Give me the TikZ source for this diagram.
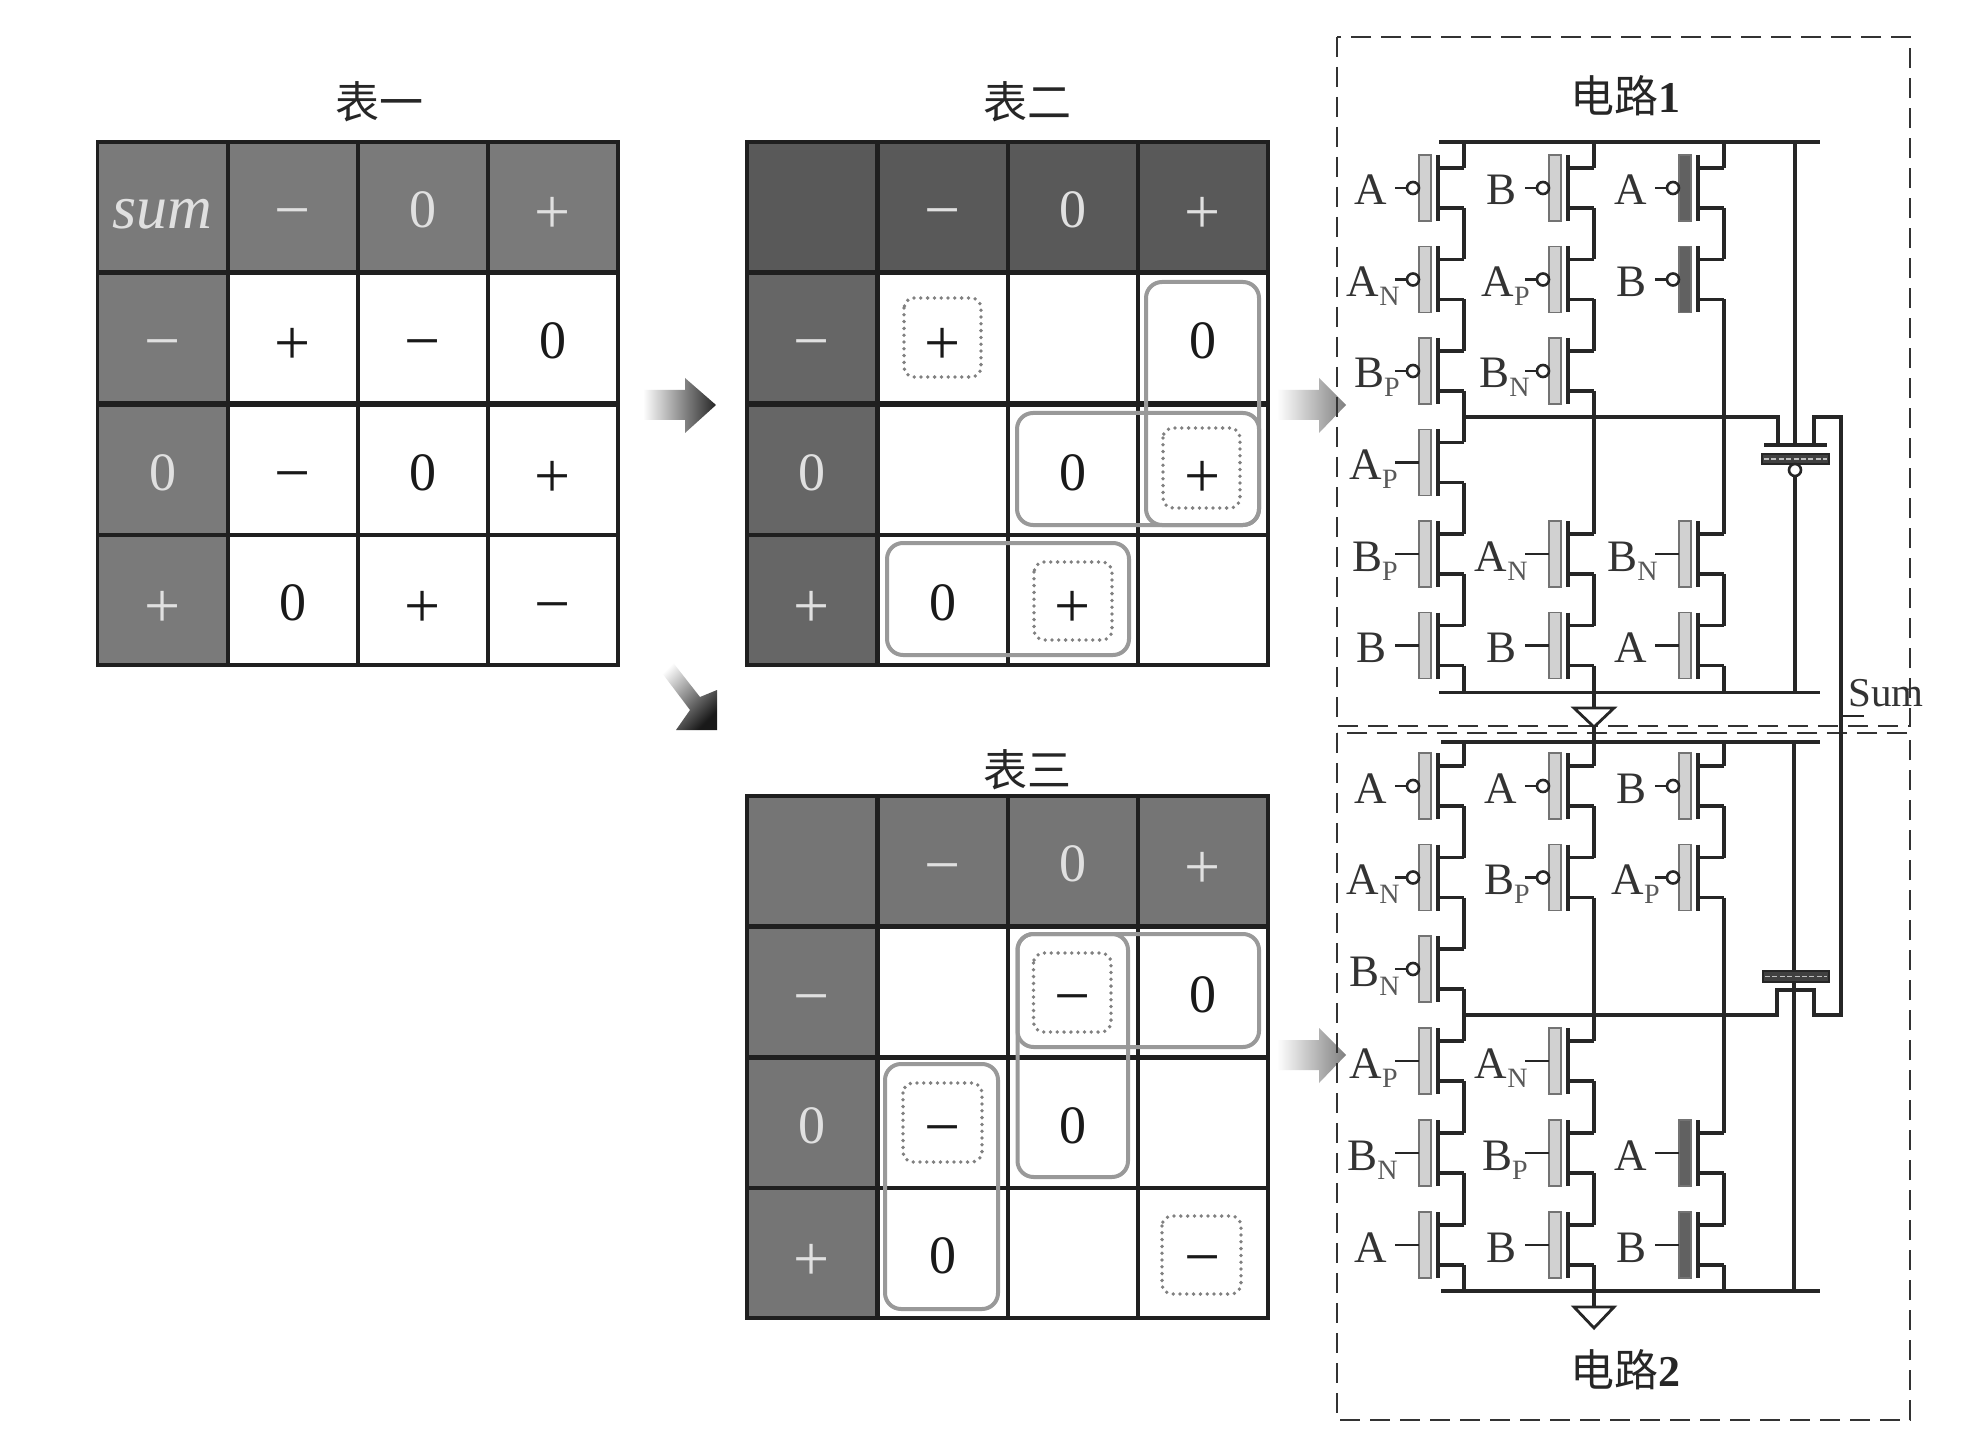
\documentclass[tikz,border=0pt]{standalone}
\usepackage{fontspec}
\setmainfont{Liberation Serif}
\newfontfamily\cjkf{Noto Sans CJK SC}
\usetikzlibrary{shadings}
\definecolor{hA}{gray}{0.48}
\definecolor{hB}{gray}{0.35}
\definecolor{hC}{gray}{0.40}
\definecolor{hD}{gray}{0.46}
\definecolor{hlt}{gray}{0.88}
\definecolor{rnd}{gray}{0.60}
\definecolor{dotc}{gray}{0.50}
\definecolor{gatel}{gray}{0.82}
\definecolor{gated}{gray}{0.38}
\tikzset{
  x=0.5pt,y=-0.5pt,
  cellbase/.style={draw=black!88,line width=1.7pt,minimum width=65pt,minimum height=65pt,inner sep=0pt,outer sep=0pt,font=\fontsize{27}{27}\selectfont},
  wcell/.style={cellbase,fill=white,text=black!90},
  hcellA/.style={cellbase,fill=hA,text=hlt},
  hcellB/.style={cellbase,fill=hB,text=hlt},
  hcellC/.style={cellbase,fill=hC,text=hlt},
  hcellD/.style={cellbase,fill=hD,text=hlt},
  title/.style={font=\cjkf\fontsize{22}{22}\selectfont,text=black!85,inner sep=0pt},
  ctitle/.style={font=\fontsize{22}{22}\selectfont,text=black!85,inner sep=0pt},
  rbox/.style={draw=rnd,line width=2pt,rounded corners=8pt},
  dbox/.style={draw=dotc,line width=1.9pt,dash pattern=on 0pt off 3.4pt,line cap=round,rounded corners=5pt},
  wire/.style={draw=black!85,line width=1.6pt},
  gatebox/.style={draw=black!55,line width=0.8pt},
  dashbox/.style={draw=black!80,line width=1.1pt,dash pattern=on 10pt off 5pt},
  tlabel/.style={font=\fontsize{22.5}{22.5}\selectfont,text=black!80,inner sep=0pt},
}
\newcommand{\pl}{\raisebox{-13.5pt}[0pt][0pt]{\fontsize{32}{32}\selectfont +}}
\newcommand{\mn}{\raisebox{-12.5pt}[0pt][0pt]{\fontsize{32}{32}\selectfont −}}
\newcommand{\zr}{\raisebox{-10.4pt}[0pt][0pt]{0}}
\newcommand{\sbs}[1]{\raisebox{-4.5pt}{\fontsize{14}{14}\selectfont\color{black!65}#1}}
% \trans{rail x}{row y}{label}{right-shift}{gate fill}{bubble 0/1}
\newcommand{\trans}[6]{%
  \begin{scope}[shift={(#1,#2)}]
    \draw[wire] (0,-20) -- (-26,-20) (-26,-33) -- (-26,33) (-26,20) -- (0,20);
    \draw[gatebox,fill=#5] (-45,-33) rectangle (-33,33);
    \ifnum#6=1
      \draw[wire,line width=1.3pt,fill=white] (-51,0) circle (6);
      \draw[wire,line width=1.3pt] (-69,0) -- (-57,0);
    \else
      \draw[wire,line width=1.3pt] (-69,0) -- (-45,0);
    \fi
    \node[tlabel,anchor=base east] at (#4,17) {#3};
  \end{scope}}
\newcommand{\railseg}[3]{\draw[wire] (#1,#2) -- (#1,#3);}
\begin{document}
\begin{tikzpicture}
\useasboundingbox[fill=white] (0,0) rectangle (1986,1444);
% ---------- titles
\node[title] (ttA) at (379,102) {表一};
\node[title] (ttB) at (1027,102) {表二};
\node[title] (ttC) at (1027,770) {表三};
% ---------- table 1
\foreach \n/\x/\y/\s/\t in {a/162.5/207/hcellA/{\raisebox{-10.8pt}[0pt][0pt]{\fontsize{31}{31}\selectfont\itshape sum}},
  b/293/207/hcellA/{\mn},c/423/207/hcellA/{\zr},d/553/207/hcellA/{\pl},
  e/162.5/338/hcellA/{\mn},f/293/338/wcell/{\pl},g/423/338/wcell/{\mn},h/553/338/wcell/{\zr},
  i/162.5/470/hcellA/{\zr},j/293/470/wcell/{\mn},k/423/470/wcell/{\zr},l/553/470/wcell/{\pl},
  m/162.5/600/hcellA/{\pl},n/293/600/wcell/{\zr},o/423/600/wcell/{\pl},p/553/600/wcell/{\mn}}
  {\node[\s] (one\n) at (\x,\y) {\t};}
% ---------- table 2
\foreach \n/\x/\y/\s/\t in {a/812/207/hcellB/{},
  b/943/207/hcellB/{\mn},c/1073/207/hcellB/{\zr},d/1203/207/hcellB/{\pl},
  e/812/338/hcellC/{\mn},f/943/338/wcell/{\pl},g/1073/338/wcell/{},h/1203/338/wcell/{\zr},
  i/812/470/hcellC/{\zr},j/943/470/wcell/{},k/1073/470/wcell/{\zr},l/1203/470/wcell/{\pl},
  m/812/600/hcellC/{\pl},n/943/600/wcell/{\zr},o/1073/600/wcell/{\pl},p/1203/600/wcell/{}}
  {\node[\s] (two\n) at (\x,\y) {\t};}
\draw[rbox] (1146,282) rectangle (1259,525);
\draw[rbox] (1017,413) rectangle (1259,525);
\draw[rbox] (887,543) rectangle (1129,655);
\draw[dbox] (904,298) rectangle (981,377);
\draw[dbox] (1163,428) rectangle (1240,508);
\draw[dbox] (1034,562) rectangle (1112,640);
% ---------- table 3
\foreach \n/\x/\y/\s/\t in {a/812/861/hcellD/{},
  b/943/861/hcellD/{\mn},c/1073/861/hcellD/{\zr},d/1203/861/hcellD/{\pl},
  e/812/992/hcellD/{\mn},f/943/992/wcell/{},g/1073/992/wcell/{\mn},h/1203/992/wcell/{\zr},
  i/812/1123/hcellD/{\zr},j/943/1123/wcell/{\mn},k/1073/1123/wcell/{\zr},l/1203/1123/wcell/{},
  m/812/1253/hcellD/{\pl},n/943/1253/wcell/{\zr},o/1073/1253/wcell/{},p/1203/1253/wcell/{\mn}}
  {\node[\s] (thr\n) at (\x,\y) {\t};}
\draw[rbox] (1017.5,934) rectangle (1128,1177);
\draw[rbox] (1017.5,934) rectangle (1259,1047);
\draw[rbox] (885,1064) rectangle (998,1309);
\draw[dbox] (1033.5,953) rectangle (1111,1032);
\draw[dbox] (903,1083) rectangle (982,1162);
\draw[dbox] (1162,1216) rectangle (1241,1294);
% ---------- block arrows
\path[left color=white,right color=black!85] (643,390) -- (685,390) -- (685,378) -- (716,405) -- (685,433) -- (685,420) -- (643,420) -- cycle;
\path[left color=white,right color=black!50] (1277,390) -- (1319,390) -- (1319,378) -- (1346,405) -- (1319,433) -- (1319,420) -- (1277,420) -- cycle;
\path[left color=white,right color=black!50] (1277,1040) -- (1319,1040) -- (1319,1028) -- (1346,1055) -- (1319,1083) -- (1319,1070) -- (1277,1070) -- cycle;
\path[top color=white,bottom color=black!90,shading angle=45] (671,660) -- (700,697) -- (717,690) -- (717,730) -- (676,730) -- (690,710) -- (656,665) -- cycle;
% ---------- dashed frames
\draw[dashbox] (1337,37) rectangle (1910,726);
\draw[dashbox] (1337,733) rectangle (1910,1420);
\node[ctitle] (ctA) at (1625,96) {{\cjkf 电路}\textbf{1}};
\node[ctitle] (ctB) at (1625,1370) {{\cjkf 电路}\textbf{2}};
% ---------- circuit 1
\draw[wire] (1439,142) -- (1820,142);
\draw[wire] (1439,692.5) -- (1820,692.5);
\foreach \cx/\ya/\yb in {1464/142/168,1464/208/259.5,1464/299.5/351,1464/391/442.5,1464/482.5/534,1464/574/625.5,1464/665.5/692.5,
  1594/142/168,1594/208/259.5,1594/299.5/351,1594/391/534,1594/574/625.5,1594/665.5/692.5,
  1724/142/168,1724/208/259.5,1724/299.5/534,1724/574/625.5,1724/665.5/692.5}
  {\railseg{\cx}{\ya}{\yb}}
\trans{1464}{188}{A}{-77}{gatel}{1}
\trans{1464}{279.5}{A\sbs{N}}{-64}{gatel}{1}
\trans{1464}{371}{B\sbs{P}}{-64}{gatel}{1}
\trans{1464}{462.5}{A\sbs{P}}{-66}{gatel}{0}
\trans{1464}{554}{B\sbs{P}}{-66}{gatel}{0}
\trans{1464}{645.5}{B}{-77}{gatel}{0}
\trans{1594}{188}{B}{-77}{gatel}{1}
\trans{1594}{279.5}{A\sbs{P}}{-64}{gatel}{1}
\trans{1594}{371}{B\sbs{N}}{-64}{gatel}{1}
\trans{1594}{554}{A\sbs{N}}{-66}{gatel}{0}
\trans{1594}{645.5}{B}{-77}{gatel}{0}
\trans{1724}{188}{A}{-77}{gated}{1}
\trans{1724}{279.5}{B}{-77}{gated}{1}
\trans{1724}{554}{B\sbs{N}}{-66}{gatel}{0}
\trans{1724}{645.5}{A}{-77}{gatel}{0}
% pass gate 1
\draw[wire] (1795,142) -- (1795,445);
\draw[wire] (1795,476) -- (1795,692.5);
\draw[wire] (1764,445) -- (1827,445);
\draw[fill=black!75,draw=black!85,line width=0.8pt] (1762,454) rectangle (1829,464);
\draw[draw=white!75!black,line width=0.8pt,dash pattern=on 2.5pt off 1.2pt] (1764,459) -- (1827,459);
\draw[wire,line width=1.3pt,fill=white] (1795,470) circle (6);
\draw[wire] (1464,417) -- (1778,417) -- (1778,445);
\draw[wire] (1814,445) -- (1814,417) -- (1841,417) -- (1841,1015) -- (1814,1015) -- (1814,990) -- (1777,990) -- (1777,1015) -- (1464,1015);
\draw[wire,line width=1.3pt] (1841,716) -- (1864,716);
\node[tlabel,anchor=west,font=\fontsize{20.5}{20.5}\selectfont] (sum) at (1848,693) {Sum};
% ground 1
\draw[wire] (1594,692.5) -- (1594,708);
\draw[wire,line width=1.4pt,fill=white] (1574,708) -- (1614,708) -- (1594,727) -- cycle;
\draw[wire] (1594,727) -- (1594,742);
% ---------- circuit 2
\draw[wire] (1441,742) -- (1820,742);
\draw[wire] (1441,1291) -- (1820,1291);
\foreach \cx/\ya/\yb in {1464/742/766,1464/806/857.5,1464/897.5/949,1464/989/1041,1464/1081/1133,1464/1173/1225,1464/1265/1291,
  1594/742/766,1594/806/857.5,1594/897.5/1041,1594/1081/1133,1594/1173/1225,1594/1265/1291,
  1724/742/766,1724/806/857.5,1724/897.5/1133,1724/1173/1225,1724/1265/1291}
  {\railseg{\cx}{\ya}{\yb}}
\trans{1464}{786}{A}{-77}{gatel}{1}
\trans{1464}{877.5}{A\sbs{N}}{-64}{gatel}{1}
\trans{1464}{969}{B\sbs{N}}{-64}{gatel}{1}
\trans{1464}{1061}{A\sbs{P}}{-66}{gatel}{0}
\trans{1464}{1153}{B\sbs{N}}{-66}{gatel}{0}
\trans{1464}{1245}{A}{-77}{gatel}{0}
\trans{1594}{786}{A}{-77}{gatel}{1}
\trans{1594}{877.5}{B\sbs{P}}{-64}{gatel}{1}
\trans{1594}{1061}{A\sbs{N}}{-66}{gatel}{0}
\trans{1594}{1153}{B\sbs{P}}{-66}{gatel}{0}
\trans{1594}{1245}{B}{-77}{gatel}{0}
\trans{1724}{786}{B}{-77}{gatel}{1}
\trans{1724}{877.5}{A\sbs{P}}{-64}{gatel}{1}
\trans{1724}{1153}{A}{-77}{gated}{0}
\trans{1724}{1245}{B}{-77}{gated}{0}
% pass gate 2
\draw[wire] (1794,742) -- (1794,971);
\draw[wire] (1794,982) -- (1794,1291);
\draw[fill=black!75,draw=black!85,line width=0.8pt] (1763,971) rectangle (1829,982);
\draw[draw=white!75!black,line width=0.8pt,dash pattern=on 2.5pt off 1.2pt] (1765,976.5) -- (1827,976.5);
% ground 2
\draw[wire] (1594,1291) -- (1594,1307);
\draw[wire,line width=1.4pt,fill=white] (1574,1307) -- (1614,1307) -- (1594,1328) -- cycle;
\end{tikzpicture}
\end{document}
